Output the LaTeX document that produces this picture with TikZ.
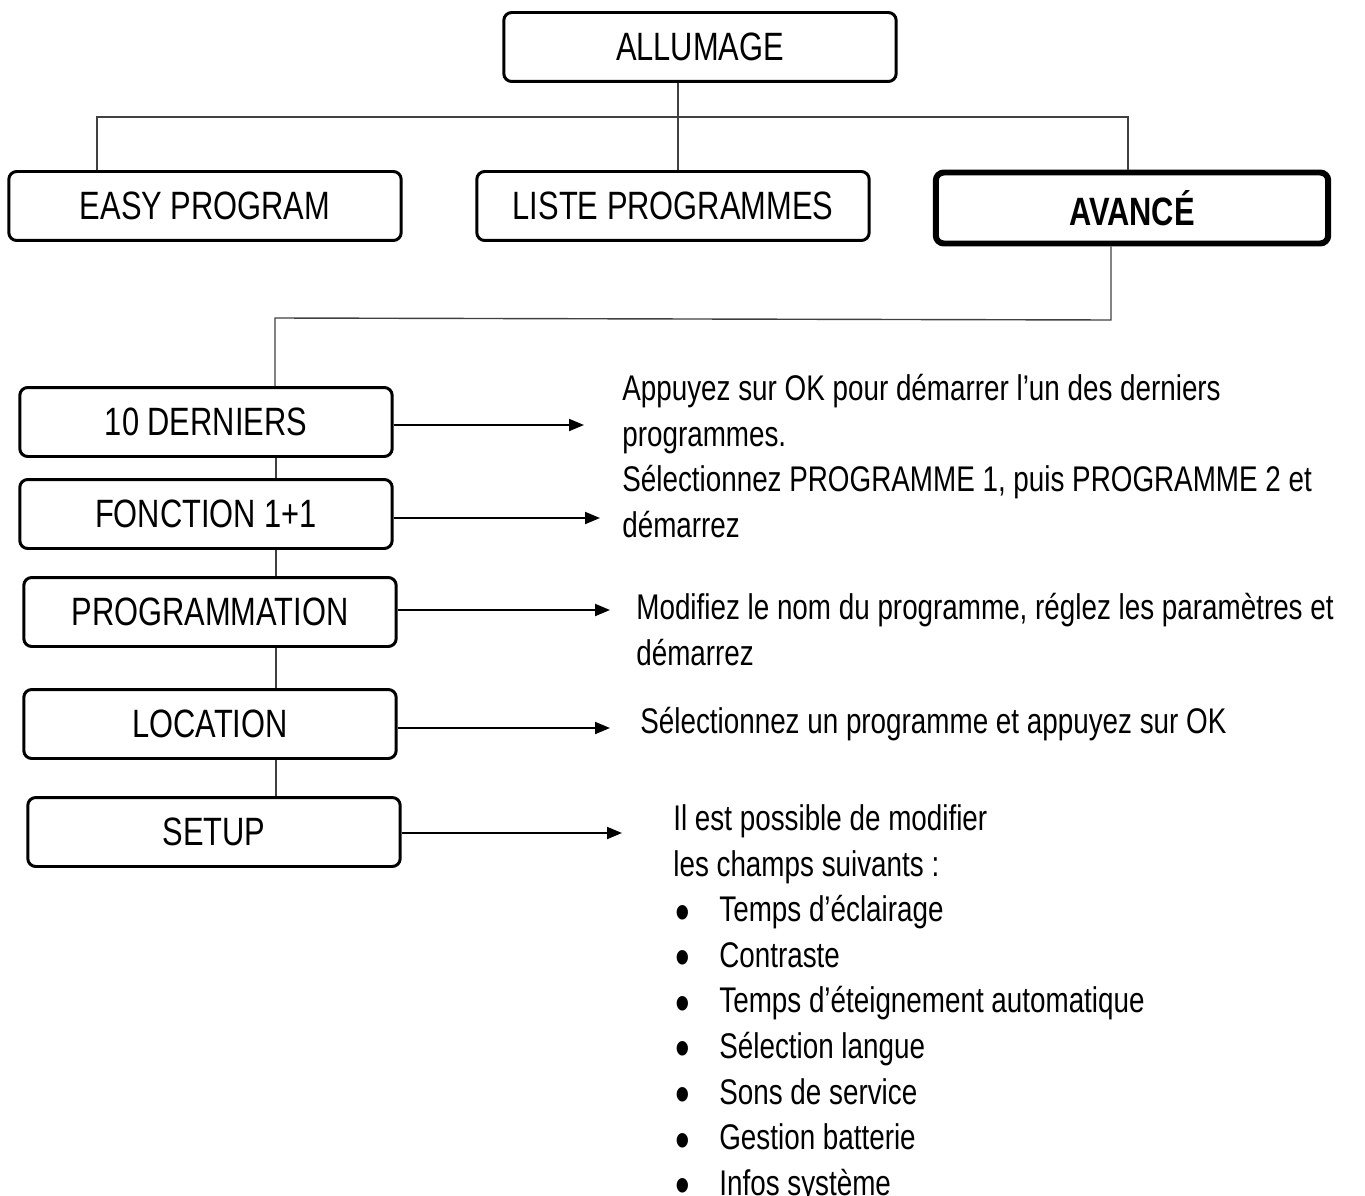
\documentclass[tikz,border=0pt]{standalone}
\usepackage{fontspec}
\usepackage{graphicx}
\setmainfont{Liberation Sans}[FakeStretch=0.78]
\usetikzlibrary{arrows.meta,positioning}

\newcommand{\puce}[1]{\hspace{0.04cm}\makebox[0.88cm][l]{\smash{\raisebox{-0.17cm}{\scalebox{1.5}{\textbullet}}}}#1}

\tikzset{
  menu/.style={draw, line width=1.7pt, rounded corners=0.16cm, inner sep=0pt,
    minimum width=7.45cm, minimum height=1.38cm, font=\fontsize{22.5}{26}\selectfont},
  topmenu/.style={menu, minimum width=7.85cm},
  link/.style={line width=0.8pt, black!75},
  pointer/.style={-{Triangle[length=0.3cm,width=0.24cm]}, line width=1.1pt},
  note/.style={anchor=base west, align=left, inner sep=0pt,
    font=\fontsize{20.3}{25.9}\selectfont},
}

\begin{document}
\begin{tikzpicture}[x=0.02cm, y=-0.02cm]
\useasboundingbox (0,0) rectangle (1365,1196);

% top level
\node[topmenu] (allumage) at (700,47) {ALLUMAGE};
\node[topmenu] (easy) at (205,206) {EASY PROGRAM};
\node[topmenu] (liste) at (673,206) {LISTE PROGRAMMES};
\node[topmenu, line width=3.4pt, minimum height=1.42cm,
  font=\fontsize{22.5}{26}\selectfont\bfseries] (avance) at (1132,208) {AVANCÉ};

% tree lines
\coordinate (tL) at (97,117);
\coordinate (tM) at (678,117);
\coordinate (tR) at (1128,117);
\draw[link] (allumage.south -| tM) -- (liste.north -| tM);
\draw[link] (easy.north -| tL) -- (tL) -- (tR) -- (avance.north -| tR);

% sub menu of AVANCÉ
\node[menu] (derniers) at (206,422) {10 DERNIERS};
\node[menu] (fonction) at (206,514) {FONCTION 1+1};
\node[menu] (programmation) at (210,612) {PROGRAMMATION};
\node[menu] (location) at (210,724) {LOCATION};
\node[menu] (setup) at (214,832) {SETUP};

\coordinate (bR) at (1111,320);
\coordinate (bL) at (275,318);
\draw[link] (avance.south -| bR) -- (bR) -- (bL) -- (derniers.north -| bL);
\draw[link] (derniers.south -| 276,0) -- (fonction.north -| 276,0);
\draw[link] (fonction.south -| 276,0) -- (programmation.north -| 276,0);
\draw[link] (programmation.south -| 276,0) -- (location.north -| 276,0);
\draw[link] (location.south -| 276,0) -- (setup.north -| 276,0);

% arrows to the explanations
\coordinate (p1) at (584,425);
\coordinate (p2) at (600,518);
\coordinate (p3) at (610,610);
\coordinate (p4) at (610,728);
\coordinate (p5) at (622,833);
\draw[pointer] (derniers.east |- p1) -- (p1);
\draw[pointer] (fonction.east |- p2) -- (p2);
\draw[pointer] (programmation.east |- p3) -- (p3);
\draw[pointer] (location.east |- p4) -- (p4);
\draw[pointer] (setup.east |- p5) -- (p5);

% explanations (base = last line)
\node[note] (t1) at (622,446) {Appuyez sur OK pour démarrer l'un des derniers\\programmes.};
\node[note] (t2) at (622,537) {Sélectionnez PROGRAMME 1, puis PROGRAMME 2 et\\démarrez};
\node[note] (t3) at (636,665) {Modifiez le nom du programme, réglez les paramètres et\\démarrez};
\node[note] (t4) at (640,733) {Sélectionnez un programme et appuyez sur OK};
\node[note] (t5) at (673,1195) {Il est possible de modifier\\les champs suivants :\\
  \puce{Temps d’éclairage}\\
  \puce{Contraste}\\
  \puce{Temps d’éteignement automatique}\\
  \puce{Sélection langue}\\
  \puce{Sons de service}\\
  \puce{Gestion batterie}\\
  \puce{Infos système}};

\end{tikzpicture}
\end{document}
